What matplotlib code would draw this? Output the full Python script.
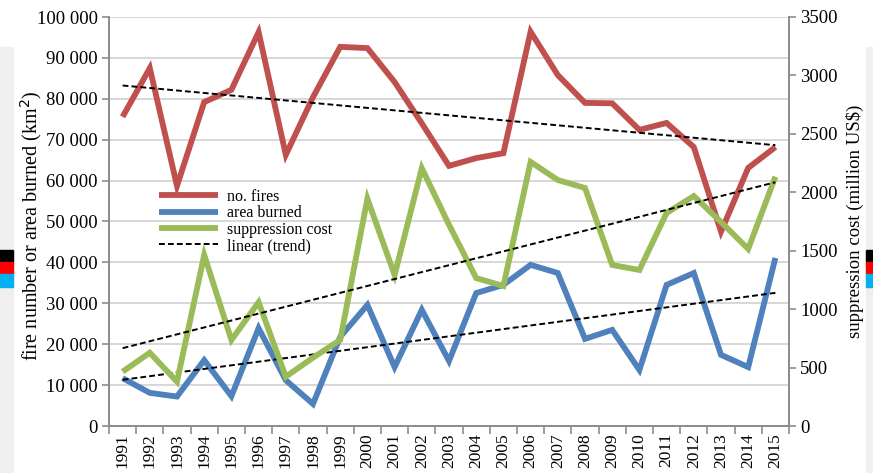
import numpy as np
import matplotlib
matplotlib.use("Agg")
import matplotlib.pyplot as plt
from matplotlib.patches import Rectangle
from matplotlib.ticker import FuncFormatter, FixedLocator

plt.rcParams['font.family'] = ['Liberation Serif', 'DejaVu Serif']

years = list(range(1991, 2016))
no_fires = [75600, 87500, 58700, 79200, 82200, 96300, 66300, 80400, 92700, 92400,
            84100, 74000, 63600, 65500, 66700, 96400, 85800, 79000, 78900, 72400,
            74100, 68200, 47500, 63100, 68200]
area_burned = [11700, 8100, 7200, 16100, 7300, 23900, 11200, 5400, 21800, 29600,
               14400, 28400, 15900, 32500, 34500, 39400, 37400, 21300, 23500, 13700,
               34500, 37400, 17400, 14400, 41100]
suppression_cost = [465, 627, 379, 1463, 736, 1059, 422, 585, 736, 1945,
                    1292, 2206, 1722, 1266, 1198, 2260, 2105, 2037, 1378, 1335,
                    1823, 1968, 1746, 1515, 2133]

RED = '#C0504D'
BLUE = '#4F81BD'
GREEN = '#9BBB59'
AXIS_GREY = '#8c8c8c'
GRID_GREY = '#d4d4d4'

fig = plt.figure(figsize=(8.73, 4.73), dpi=100)
fig.patch.set_facecolor('white')

# edge bands and colour blocks along the figure sides
W, H = 873, 473
def px_rect(x0, y0, x1, y1, color):
    fig.patches.append(Rectangle((x0 / W, 1 - y1 / H), (x1 - x0) / W, (y1 - y0) / H,
                                 transform=fig.transFigure, color=color, zorder=0))
px_rect(0, 47, 13, 473, '#efefef')
px_rect(866, 47, 873, 473, '#efefef')
for x0, x1 in [(0, 13), (866, 873)]:
    px_rect(x0, 250, x1, 262, '#000000')
    px_rect(x0, 262, x1, 274, '#ff0000')
    px_rect(x0, 274, x1, 287, '#00b0f0')

ax = fig.add_axes([109 / W, 1 - 426 / H, (789 - 109) / W, (426 - 17) / H])
ax2 = ax.twinx()

x = np.arange(len(years))

ax.set_xlim(-0.5, len(years) - 0.5)
ax.set_ylim(0, 100000)
ax2.set_ylim(0, 3500)

ax.yaxis.set_major_locator(FixedLocator(np.arange(0, 100001, 10000)))
ax2.yaxis.set_major_locator(FixedLocator(np.arange(0, 3501, 500)))
ax.yaxis.set_major_formatter(FuncFormatter(lambda v, p: f"{int(v):,}".replace(',', ' ')))
ax2.yaxis.set_major_formatter(FuncFormatter(lambda v, p: f"{int(v)}"))

ax.grid(axis='y', color=GRID_GREY, linewidth=1.3)
ax.set_axisbelow(True)

lw = 4.2
l1, = ax.plot(x, no_fires, color=RED, lw=lw, solid_joinstyle='miter', solid_capstyle='butt', zorder=3)
l2, = ax.plot(x, area_burned, color=BLUE, lw=lw, solid_joinstyle='miter', solid_capstyle='butt', zorder=3)
l3, = ax2.plot(x, suppression_cost, color=GREEN, lw=lw, solid_joinstyle='miter', solid_capstyle='butt', zorder=3)

dash = (0, (3.0, 1.6))
for series, axis in [(no_fires, ax), (area_burned, ax), (suppression_cost, ax2)]:
    k, b = np.polyfit(x, series, 1)
    axis.plot(x, k * x + b, color='black', lw=1.4, linestyle=dash, zorder=4)
l4, = ax.plot([], [], color='black', lw=1.4, linestyle=dash)

# x axis: category labels with ticks on the category boundaries
ax.set_xticks(x)
ax.set_xticklabels([str(y) for y in years], rotation=90, fontsize=12.5)
ax.set_xticks(np.arange(-0.5, len(years), 1), minor=True)
ax.tick_params(axis='x', which='major', length=0, pad=5)
ax.tick_params(axis='x', which='minor', length=6, color=AXIS_GREY, width=1.2)
ax.tick_params(axis='y', length=5, color=AXIS_GREY, width=1.2, labelsize=13.5, pad=3)
ax2.tick_params(axis='y', length=5, color=AXIS_GREY, width=1.2, labelsize=13.5, pad=3)

for a in (ax, ax2):
    a.spines['top'].set_visible(False)
    for s in ('left', 'right', 'bottom'):
        a.spines[s].set_color(AXIS_GREY)
        a.spines[s].set_linewidth(1.3)
ax2.patch.set_visible(False)

ax.set_ylabel('fire number or area burned (km$^2$)', fontsize=14.5)
ax.yaxis.set_label_coords((44 - 109) / 680, 0.49)
ax2.set_ylabel('suppression cost (million US$)', fontsize=13.5, labelpad=6)

leg = ax.legend([l1, l2, l3, l4], ['no. fires', 'area burned', 'suppression cost', 'linear (trend)'],
                loc='upper left', bbox_to_anchor=((159 - 109) / 680, (426 - 189) / 409),
                frameon=False, fontsize=11.5, handlelength=3.7, handletextpad=0.55,
                labelspacing=0.02, borderaxespad=0, borderpad=0)
leg.set_zorder(10)

fig.savefig('out.png', dpi=100, facecolor='white')
